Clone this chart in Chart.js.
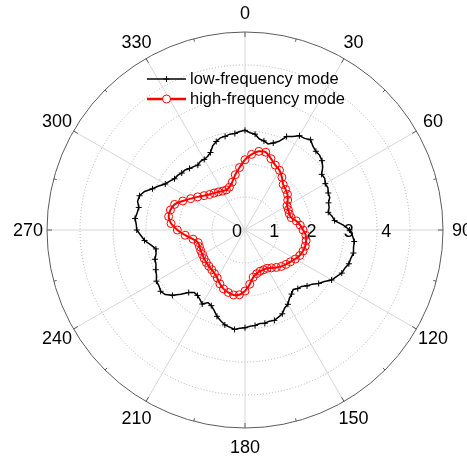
<!DOCTYPE html>
<html>
<head>
<meta charset="utf-8">
<script src="https://cdn.jsdelivr.net/npm/chart.js@4"></script>
<style>
  html, body { margin: 0; padding: 0; background: #fff; }
  #wrap { width: 467px; height: 456px; }
</style>
</head>
<body>
<div id="wrap"><canvas id="polar"></canvas></div>
<script>
// angle labels (deg, clockwise from top) and radial tick labels
const angleTicks = [0, 30, 60, 90, 120, 150, 180, 210, 240, 270, 300, 330];
const radialTicks = [0, 1, 2, 3, 4];

// low-frequency mode, sampled every 3 deg starting at 0
const lowStep = 3;
const lowValues = [
  3.02, 2.95, 2.92, 2.79, 2.76, 2.70, 2.77, 2.88, 3.10, 3.18,
  3.30, 3.31, 3.38, 3.27, 3.21, 3.20, 3.14, 3.03, 2.87, 2.88,
  2.81, 2.82, 2.76, 2.75, 2.66, 2.64, 2.58, 2.67, 2.73, 2.97,
  3.17, 3.26, 3.33, 3.33, 3.36, 3.32, 3.31, 3.24, 3.21, 3.11,
  3.03, 2.87, 2.76, 2.61, 2.53, 2.42, 2.39, 2.32, 2.40, 2.47,
  2.60, 2.65, 2.78, 2.83, 2.88, 2.86, 2.89, 2.87, 2.91, 2.92,
  2.96, 2.98, 3.03, 2.98, 2.94, 2.85, 2.75, 2.61, 2.51, 2.47,
  2.59, 2.51, 2.45, 2.44, 2.55, 2.75, 2.96, 3.11, 3.16, 3.11,
  3.10, 3.01, 2.96, 2.89, 2.87, 2.79, 2.76, 2.89, 3.06, 3.16,
  3.28, 3.30, 3.35, 3.31, 3.29, 3.37, 3.36, 3.26, 3.07, 2.94,
  2.79, 2.72, 2.64, 2.63, 2.58, 2.57, 2.51, 2.47, 2.43, 2.48,
  2.47, 2.50, 2.57, 2.73, 2.82, 2.89, 2.90, 2.94, 2.94, 2.99
];

// high-frequency mode, sampled every 5 deg starting at 0
const highStep = 5;
const highValues = [
  2.13, 2.30, 2.42, 2.44, 2.30, 2.17, 2.09, 1.95, 1.80, 1.74,
  1.68, 1.58, 1.47, 1.45, 1.43, 1.45, 1.58, 1.68, 1.76, 1.85,
  1.88, 1.89, 1.87, 1.83, 1.76, 1.68, 1.62, 1.56, 1.48, 1.40,
  1.34, 1.33, 1.33, 1.37, 1.45, 1.65, 1.85, 1.97, 2.00, 1.96,
  1.90, 1.80, 1.68, 1.61, 1.57, 1.55, 1.53, 1.51, 1.49, 1.48,
  1.47, 1.47, 1.60, 1.82, 2.05, 2.25, 2.35, 2.34, 2.27, 2.08,
  1.90, 1.75, 1.62, 1.52, 1.46, 1.41, 1.36, 1.34, 1.38, 1.50,
  1.70, 1.90
];

const seriesNames = ['low-frequency mode', 'high-frequency mode'];

// one category per degree; each series fills its own sampled degrees
const degrees = [];
for (let d = 0; d < 360; d++) degrees.push(d);

function spread(values, step) {
  const out = degrees.map(() => null);
  values.forEach((v, i) => { out[i * step] = v; });
  return out;
}

const FONT = '"Liberation Sans", Arial, sans-serif';

const polarDecor = {
  id: 'polarDecor',
  beforeDatasetsDraw(chart) {
    const r = chart.scales.r;
    const ctx = chart.ctx;
    const R = r.drawingArea;
    ctx.save();
    // outer circle + ticks
    ctx.strokeStyle = '#5c5c5c';
    ctx.lineWidth = 1;
    ctx.beginPath();
    ctx.arc(r.xCenter, r.yCenter, R, 0, Math.PI * 2);
    ctx.stroke();
    for (let a = 0; a < 360; a += 15) {
      const len = a % 30 === 0 ? 5 : 3;
      const p1 = r.getPointPosition(a, R);
      const p2 = r.getPointPosition(a, R - len);
      ctx.beginPath();
      ctx.moveTo(p1.x, p1.y);
      ctx.lineTo(p2.x, p2.y);
      ctx.stroke();
    }
    ctx.fillStyle = '#000';
    ctx.font = '18px ' + FONT;
    ctx.textAlign = 'center';
    ctx.textBaseline = 'middle';
    // radial labels along the 90 deg axis
    radialTicks.forEach(v => {
      const d = r.getDistanceFromCenterForValue(v);
      const p = r.getPointPosition(90, d * 1.13 - 8);
      ctx.fillText(String(v), p.x, p.y + 2);
    });
    // angle labels
    angleTicks.forEach(a => {
      const p = r.getPointPosition(a, R + 19);
      ctx.fillText(String(a), p.x, p.y + 1);
    });
    ctx.restore();
  },
  afterDraw(chart) {
    const r = chart.scales.r;
    const ctx = chart.ctx;
    const x0 = r.xCenter - 98, x1 = r.xCenter - 59, xm = (x0 + x1) / 2;
    const y0 = r.yCenter - 151, y1 = r.yCenter - 131;
    ctx.save();
    // black entry
    ctx.strokeStyle = '#000';
    ctx.lineWidth = 1.5;
    ctx.beginPath(); ctx.moveTo(x0, y0); ctx.lineTo(x1, y0); ctx.stroke();
    ctx.lineWidth = 1;
    ctx.beginPath();
    ctx.moveTo(xm - 3, y0); ctx.lineTo(xm + 3, y0);
    ctx.moveTo(xm, y0 - 3); ctx.lineTo(xm, y0 + 3);
    ctx.stroke();
    // red entry
    ctx.strokeStyle = '#ff0000';
    ctx.lineWidth = 2.5;
    ctx.beginPath(); ctx.moveTo(x0, y1); ctx.lineTo(x1, y1); ctx.stroke();
    ctx.lineWidth = 1;
    ctx.fillStyle = '#fff';
    ctx.beginPath(); ctx.arc(xm, y1, 4, 0, Math.PI * 2); ctx.fill(); ctx.stroke();
    ctx.fillStyle = '#000';
    ctx.font = '16.5px ' + FONT;
    ctx.textAlign = 'left';
    ctx.textBaseline = 'middle';
    ctx.fillText(seriesNames[0], x1 + 4, y0);
    ctx.fillText(seriesNames[1], x1 + 4, y1);
    ctx.restore();
  }
};

new Chart(document.getElementById('polar'), {
  type: 'radar',
  data: {
    labels: degrees,
    datasets: [
      {
        label: seriesNames[0], data: spread(lowValues, lowStep),
        borderColor: '#000', borderWidth: 1.5, fill: false, spanGaps: true, tension: 0,
        pointStyle: 'cross', pointBorderWidth: 1, pointBorderColor: '#000',
        pointRadius: (c) => (c.dataIndex % 6 === 0 ? 3 : 0)
      },
      {
        label: seriesNames[1], data: spread(highValues, highStep),
        borderColor: '#ff0000', borderWidth: 2, fill: false, spanGaps: true, tension: 0.3,
        pointStyle: 'circle', pointRadius: 4, pointBorderWidth: 1,
        pointBorderColor: '#ff0000', pointBackgroundColor: 'rgba(0,0,0,0)'
      }
    ]
  },
  options: {
    responsive: true, maintainAspectRatio: false, animation: false, events: [],
    layout: { padding: { left: 47, top: 32, right: 23, bottom: 28 } },
    plugins: { legend: { display: false }, tooltip: { enabled: false } },
    scales: {
      r: {
        min: 0, max: 6,
        ticks: { display: false, stepSize: 1 },
        pointLabels: { display: false },
        angleLines: {
          color: '#d6d6d6',
          lineWidth: (c) => (c.index % 30 === 0 ? 1 : 0)
        },
        grid: {
          circular: true, lineWidth: 1,
          color: (c) => (c.tick && c.tick.value >= 6 ? 'rgba(0,0,0,0)' : '#b0b0b0')
        },
        border: { dash: [1, 2] }
      }
    }
  },
  plugins: [polarDecor]
});
</script>
</body>
</html>
